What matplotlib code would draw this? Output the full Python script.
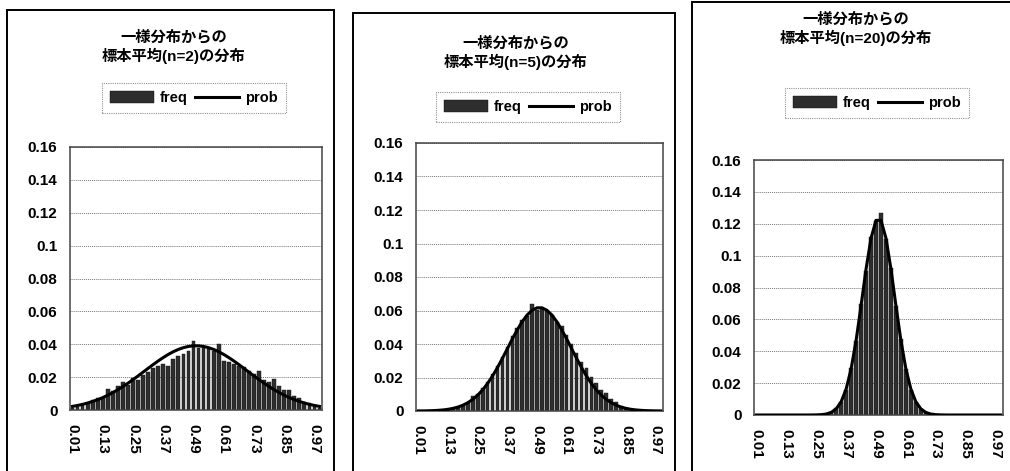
import matplotlib
matplotlib.use("Agg")
import matplotlib.pyplot as plt
from matplotlib.patches import Rectangle

plt.rcParams["font.family"] = ["Liberation Sans", "Noto Sans CJK JP", "DejaVu Sans"]
plt.rcParams["font.weight"] = "bold"

W, H = 1010, 471

# bin midpoints of the sample mean (bin width 0.02)
categories = [
    "0.01", "0.03", "0.05", "0.07", "0.09", "0.11", "0.13", "0.15", "0.17", "0.19",
    "0.21", "0.23", "0.25", "0.27", "0.29", "0.31", "0.33", "0.35", "0.37", "0.39",
    "0.41", "0.43", "0.45", "0.47", "0.49", "0.51", "0.53", "0.55", "0.57", "0.59",
    "0.61", "0.63", "0.65", "0.67", "0.69", "0.71", "0.73", "0.75", "0.77", "0.79",
    "0.81", "0.83", "0.85", "0.87", "0.89", "0.91", "0.93", "0.95", "0.97", "0.99",
]

sample_sizes = [2, 5, 20]

freq_n2 = [
    0.0010, 0.0020, 0.0030, 0.0040, 0.0060, 0.0070, 0.0070, 0.0125, 0.0115, 0.0145,
    0.0170, 0.0155, 0.0195, 0.0185, 0.0210, 0.0230, 0.0255, 0.0270, 0.0280, 0.0265,
    0.0310, 0.0330, 0.0340, 0.0360, 0.0420, 0.0380, 0.0390, 0.0370, 0.0360, 0.0400,
    0.0300, 0.0290, 0.0280, 0.0270, 0.0260, 0.0240, 0.0220, 0.0240, 0.0180, 0.0170,
    0.0190, 0.0145, 0.0120, 0.0120, 0.0085, 0.0070, 0.0050, 0.0040, 0.0030, 0.0015,
]
prob_n2 = [
    0.00219, 0.00276, 0.00344, 0.00425, 0.00520, 0.00630, 0.00756, 0.00899, 0.01058, 0.01234,
    0.01425, 0.01630, 0.01847, 0.02072, 0.02303, 0.02535, 0.02764, 0.02984, 0.03191, 0.03381,
    0.03547, 0.03686, 0.03793, 0.03867, 0.03904, 0.03904, 0.03867, 0.03793, 0.03686, 0.03547,
    0.03381, 0.03191, 0.02984, 0.02764, 0.02535, 0.02303, 0.02072, 0.01847, 0.01630, 0.01425,
    0.01234, 0.01058, 0.00899, 0.00756, 0.00630, 0.00520, 0.00425, 0.00344, 0.00276, 0.00219,
]

freq_n5 = [
    0.0000, 0.0000, 0.0000, 0.0001, 0.0002, 0.0004, 0.0007, 0.0012, 0.0019, 0.0030,
    0.0050, 0.0088, 0.0102, 0.0135, 0.0172, 0.0221, 0.0268, 0.0323, 0.0380, 0.0450,
    0.0496, 0.0541, 0.0566, 0.0636, 0.0605, 0.0610, 0.0598, 0.0571, 0.0532, 0.0510,
    0.0452, 0.0398, 0.0345, 0.0290, 0.0258, 0.0205, 0.0166, 0.0128, 0.0105, 0.0071,
    0.0052, 0.0031, 0.0020, 0.0012, 0.0007, 0.0004, 0.0002, 0.0001, 0.0000, 0.0000,
]
prob_n5 = [
    0.00005, 0.00008, 0.00014, 0.00024, 0.00040, 0.00064, 0.00102, 0.00157, 0.00236, 0.00346,
    0.00496, 0.00694, 0.00948, 0.01264, 0.01646, 0.02092, 0.02597, 0.03147, 0.03722, 0.04299,
    0.04847, 0.05335, 0.05733, 0.06015, 0.06161, 0.06161, 0.06015, 0.05733, 0.05335, 0.04847,
    0.04299, 0.03722, 0.03147, 0.02597, 0.02092, 0.01646, 0.01264, 0.00948, 0.00694, 0.00496,
    0.00346, 0.00236, 0.00157, 0.00102, 0.00064, 0.00040, 0.00024, 0.00014, 0.00008, 0.00005,
]

freq_n20 = [
    0.0000, 0.0000, 0.0000, 0.0000, 0.0000, 0.0000, 0.0000, 0.0000, 0.0000, 0.0000,
    0.0000, 0.0000, 0.0001, 0.0002, 0.0006, 0.0017, 0.0041, 0.0082, 0.0158, 0.0296,
    0.0462, 0.0694, 0.0905, 0.1118, 0.1215, 0.1265, 0.1102, 0.0921, 0.0683, 0.0475,
    0.0287, 0.0160, 0.0080, 0.0039, 0.0015, 0.0006, 0.0002, 0.0001, 0.0000, 0.0000,
    0.0000, 0.0000, 0.0000, 0.0000, 0.0000, 0.0000, 0.0000, 0.0000, 0.0000, 0.0000,
]
prob_n20 = [
    0.00000, 0.00000, 0.00000, 0.00000, 0.00000, 0.00000, 0.00000, 0.00000, 0.00000, 0.00000,
    0.00000, 0.00002, 0.00007, 0.00022, 0.00062, 0.00162, 0.00385, 0.00831, 0.01627, 0.02894,
    0.04677, 0.06865, 0.09157, 0.11096, 0.12214, 0.12214, 0.11096, 0.09157, 0.06865, 0.04677,
    0.02894, 0.01627, 0.00831, 0.00385, 0.00162, 0.00062, 0.00022, 0.00007, 0.00002, 0.00000,
    0.00000, 0.00000, 0.00000, 0.00000, 0.00000, 0.00000, 0.00000, 0.00000, 0.00000, 0.00000,
]

y_ticks = [0, 0.02, 0.04, 0.06, 0.08, 0.10, 0.12, 0.14, 0.16]
y_tick_labels = ["0", "0.02", "0.04", "0.06", "0.08", "0.1", "0.12", "0.14", "0.16"]

# pixel layout of each chart: outer frame (left, top, right), plot area (l, t, r, b),
# title centre, legend centre
layout = [
    dict(frame=(7, 10, 334), plot=(70, 147, 322, 410), title=(174, 47), legend=(194, 98)),
    dict(frame=(353, 13, 675), plot=(416, 143, 663, 411), title=(516, 53), legend=(528, 107)),
    dict(frame=(692, 2, 1014), plot=(754, 160, 1003, 415), title=(856, 29), legend=(877, 103)),
]


def px_rect(l, t, r, b):
    return [l / W, 1 - b / H, (r - l) / W, (b - t) / H]


def draw_chart(fig, n, freq, prob, spec):
    fl, ft, fr = spec["frame"]
    fig.add_artist(Rectangle((fl / W, -0.1), (fr - fl) / W, 1.1 - ft / H,
                             transform=fig.transFigure, fill=False,
                             edgecolor="black", linewidth=1.4))

    ax = fig.add_axes(px_rect(*spec["plot"]))
    x = list(range(len(categories)))
    bars = ax.bar(x, freq, width=0.74, color="#2e2e2e", edgecolor="#111111",
                  linewidth=0.3, zorder=2)
    line, = ax.plot(x, prob, color="black", linewidth=2.2, zorder=3)

    ax.set_xlim(-0.5, len(categories) - 0.5)
    ax.set_ylim(0, 0.16)
    ax.set_yticks(y_ticks)
    ax.set_yticklabels(y_tick_labels)
    ax.set_xticks(x[::6])
    ax.set_xticklabels(categories[::6], rotation=-90)
    ax.tick_params(axis="y", length=0, pad=9, labelsize=11)
    ax.tick_params(axis="x", length=0, pad=10, labelsize=11)
    ax.grid(axis="y", linestyle=(0, (1, 1)), color="#777777", linewidth=0.7, zorder=0)
    ax.set_axisbelow(True)
    for s in ax.spines.values():
        s.set_color("#444444")
        s.set_linewidth(1.1)

    tx, ty = spec["title"]
    fig.text(tx / W, 1 - ty / H, f"一様分布からの\n標本平均(n={n})の分布",
             ha="center", va="center", fontsize=11, fontweight="bold",
             linespacing=1.3)

    lx, ly = spec["legend"]
    leg = ax.legend([bars, line], ["freq", "prob"], loc="center",
                    bbox_to_anchor=(lx / W, 1 - ly / H),
                    bbox_transform=fig.transFigure, ncol=2, frameon=True,
                    fancybox=False, handlelength=3.0, handleheight=0.8,
                    columnspacing=0.5, handletextpad=0.4, borderpad=0.55,
                    prop=dict(weight="bold", size=10.5))
    frame = leg.get_frame()
    frame.set_edgecolor("#777777")
    frame.set_linestyle((0, (1, 1)))
    frame.set_linewidth(0.8)


fig = plt.figure(figsize=(W / 100, H / 100), dpi=100)
series = [(freq_n2, prob_n2), (freq_n5, prob_n5), (freq_n20, prob_n20)]
for n, (freq, prob), spec in zip(sample_sizes, series, layout):
    draw_chart(fig, n, freq, prob, spec)

fig.savefig("out.png", dpi=100)
